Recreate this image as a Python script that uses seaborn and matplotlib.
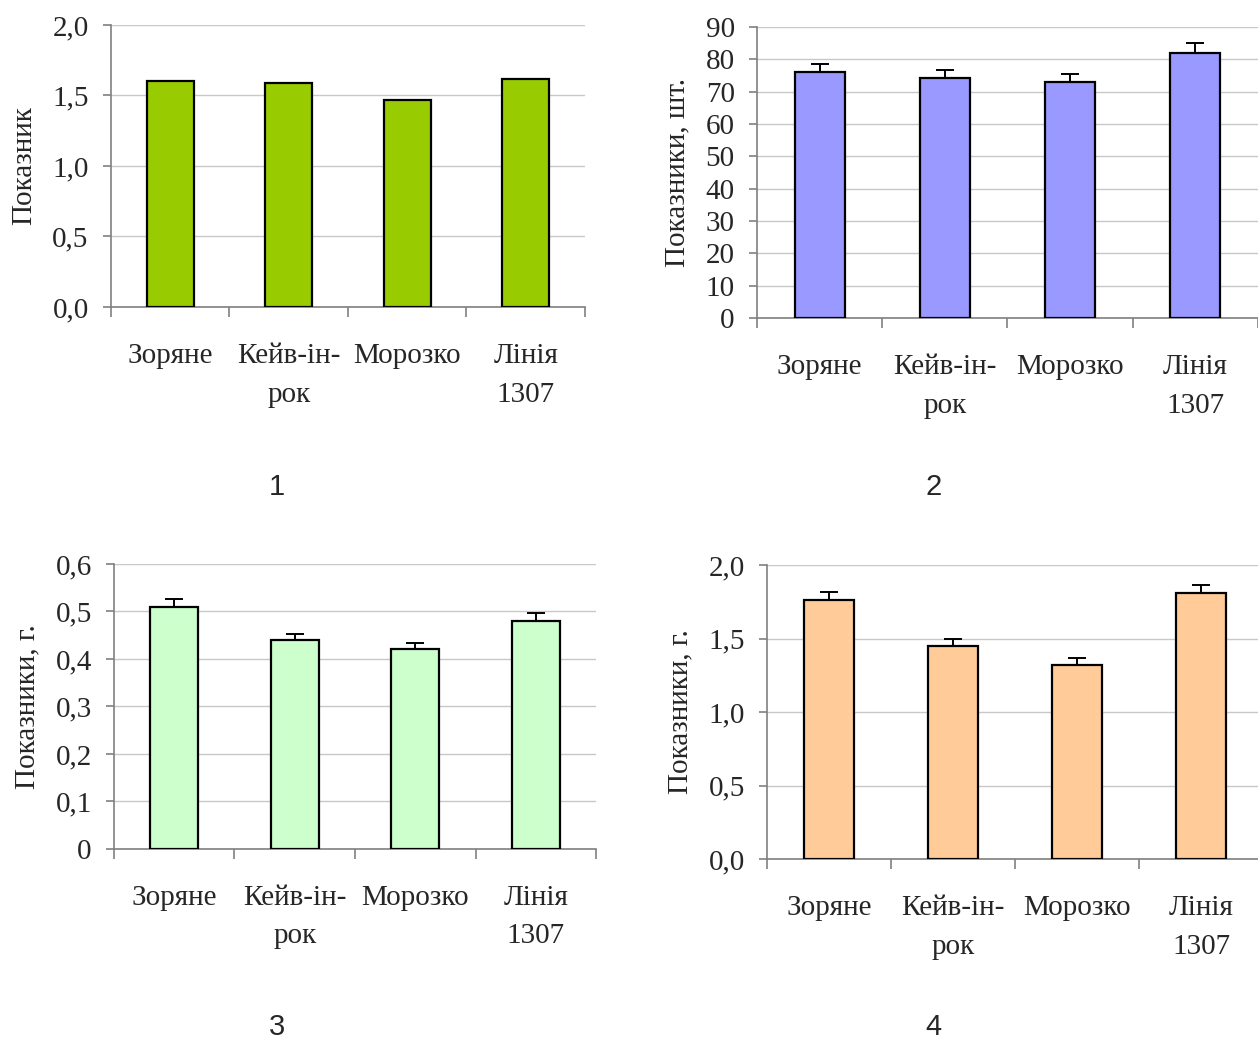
import matplotlib
matplotlib.use("Agg")
import matplotlib.pyplot as plt
import seaborn as sns
import pandas as pd
import numpy as np
from matplotlib.ticker import FixedLocator, FuncFormatter

sns.set_theme(style="white")
plt.rcParams["font.family"] = ["Liberation Serif", "DejaVu Serif"]

categories = ["Зоряне", "Кейв-ін-\nрок", "Морозко", "Лінія\n1307"]

index_values = [1.60, 1.59, 1.47, 1.62]

count_values = [76.0, 74.2, 73.0, 82.0]
count_errors = [2.5, 2.5, 2.5, 3.0]

mass3_values = [0.51, 0.44, 0.42, 0.48]
mass3_errors = [0.016, 0.013, 0.013, 0.017]

mass4_values = [1.76, 1.45, 1.32, 1.81]
mass4_errors = [0.055, 0.045, 0.045, 0.055]


def fmt_fixed1(v, pos):
    return "{:.1f}".format(v).replace(".", ",")


def fmt_general(v, pos):
    if abs(v) < 1e-9:
        return "0"
    s = "{:g}".format(round(v, 6))
    return s.replace(".", ",")


panels = [
    dict(values=index_values, errors=None, color="#99CC00", ylabel="Показник",
         ylim=(0, 2.0), step=0.5, fmt=fmt_fixed1, rect=[0.0882, 0.7048, 0.3768, 0.2712],
         number="1", numpos=(0.220, 0.532)),
    dict(values=count_values, errors=count_errors, color="#9999FF", ylabel="Показники, шт.",
         ylim=(0, 90), step=10, fmt=fmt_general, rect=[0.6017, 0.6942, 0.3983, 0.2798],
         number="2", numpos=(0.742, 0.532)),
    dict(values=mass3_values, errors=mass3_errors, color="#CCFFCC", ylabel="Показники, г.",
         ylim=(0, 0.6), step=0.1, fmt=fmt_general, rect=[0.0906, 0.1837, 0.3832, 0.2740],
         number="3", numpos=(0.220, 0.0125)),
    dict(values=mass4_values, errors=mass4_errors, color="#FFCC99", ylabel="Показники, г.",
         ylim=(0, 2.0), step=0.5, fmt=fmt_fixed1, rect=[0.6097, 0.1740, 0.3943, 0.2827],
         number="4", numpos=(0.742, 0.0125)),
]

fig = plt.figure(figsize=(12.58, 10.40), dpi=100)
fs = 21
axis_grey = "#808080"

for p in panels:
    ax = fig.add_axes(p["rect"])
    df = pd.DataFrame({"cat": categories, "val": p["values"]})
    sns.barplot(data=df, x="cat", y="val", color=p["color"], width=0.4,
                edgecolor="black", linewidth=1.6, saturation=1, ax=ax, zorder=3)
    if p["errors"] is not None:
        n = len(p["values"])
        ax.errorbar(np.arange(n), p["values"],
                    yerr=[np.zeros(n), p["errors"]], fmt="none",
                    ecolor="black", elinewidth=1.4, capsize=6.5, capthick=1.4, zorder=4)
    lo, hi = p["ylim"]
    ax.set_ylim(lo, hi)
    ax.set_xlim(-0.5, len(categories) - 0.5)
    yt = np.arange(lo, hi + p["step"] / 2, p["step"])
    ax.yaxis.set_major_locator(FixedLocator(yt))
    ax.yaxis.set_major_formatter(FuncFormatter(p["fmt"]))
    ax.grid(axis="y", color="#C8C8C8", linewidth=1.0, zorder=0)
    ax.grid(axis="x", visible=False)
    ax.set_axisbelow(True)
    for s in ["top", "right"]:
        ax.spines[s].set_visible(False)
    for s in ["left", "bottom"]:
        ax.spines[s].set_color(axis_grey)
        ax.spines[s].set_linewidth(1.2)
    ax.set_xlabel("")
    ax.set_ylabel(p["ylabel"], fontsize=fs, labelpad=11)
    ax.tick_params(axis="y", which="major", direction="out", length=6, width=1.2,
                   color=axis_grey, labelsize=fs, pad=10, left=True)
    ax.tick_params(axis="x", which="major", length=0, labelsize=fs, pad=26)
    ax.xaxis.set_minor_locator(FixedLocator(np.arange(-0.5, len(categories), 1.0)))
    ax.tick_params(axis="x", which="minor", direction="out", length=7, width=1.2,
                   color=axis_grey, bottom=True)
    for lbl in ax.get_xticklabels():
        lbl.set_linespacing(1.62)
        lbl.set_verticalalignment("top")
    fig.text(p["numpos"][0], p["numpos"][1], p["number"], fontsize=21,
             family=["Liberation Sans", "DejaVu Sans"], ha="center", va="center")

fig.savefig("out.png", dpi=100, facecolor="white")
